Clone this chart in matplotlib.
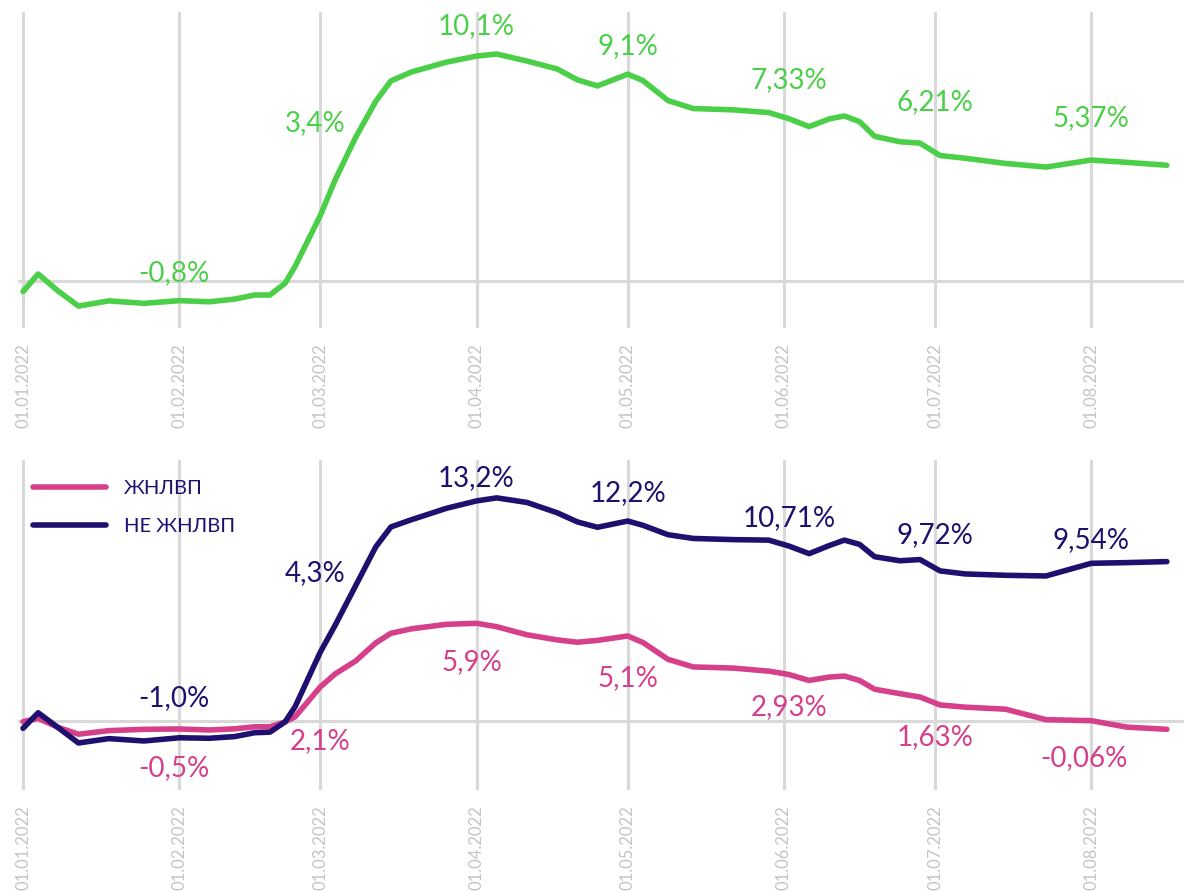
import matplotlib.pyplot as plt
import matplotlib.dates as mdates
import pandas as pd

plt.rcParams['font.family'] = ['Lato', 'Open Sans', 'DejaVu Sans']

# ---------------- data ----------------
days = [0, 3, 7, 11, 17, 24, 31, 37, 42, 46, 49, 52, 54, 59, 62, 66, 70, 73, 77, 84,
        90, 94, 100, 106, 110, 114, 120, 123, 128, 133, 141, 148, 152, 156, 160, 163,
        166, 169, 174, 178, 182, 187, 195, 203, 212, 219, 227]
dates = pd.Timestamp('2022-01-01') + pd.to_timedelta(days, unit='D')

total = [-0.47, 0.31, -0.45, -1.11, -0.88, -0.99, -0.87, -0.92, -0.80, -0.62, -0.62,
         -0.10, 0.65, 2.90, 4.50, 6.35, 7.95, 8.85, 9.24, 9.68, 9.95, 10.04, 9.73, 9.38,
         8.90, 8.63, 9.15, 8.87, 7.98, 7.63, 7.57, 7.45, 7.18, 6.83, 7.17, 7.30, 7.05,
         6.40, 6.16, 6.10, 5.55, 5.43, 5.20, 5.04, 5.35, 5.25, 5.12]

ne_zhnlvp = [-0.43, 0.49, -0.40, -1.30, -1.04, -1.18, -0.99, -1.02, -0.92, -0.69, -0.66,
             -0.05, 0.85, 4.08, 5.70, 8.00, 10.30, 11.48, 11.90, 12.58, 13.02, 13.20, 12.93,
             12.32, 11.78, 11.46, 11.83, 11.58, 11.02, 10.80, 10.73, 10.70, 10.35, 9.90,
             10.38, 10.70, 10.45, 9.72, 9.48, 9.55, 8.88, 8.70, 8.62, 8.58, 9.33, 9.37, 9.43]

zhnlvp = [-0.04, 0.16, -0.38, -0.78, -0.57, -0.49, -0.47, -0.53, -0.46, -0.34, -0.34,
          -0.05, 0.25, 2.02, 2.80, 3.55, 4.62, 5.19, 5.45, 5.72, 5.78, 5.58, 5.10, 4.80,
          4.66, 4.77, 5.03, 4.65, 3.65, 3.20, 3.13, 2.95, 2.75, 2.40, 2.60, 2.66, 2.40,
          1.88, 1.62, 1.42, 0.95, 0.82, 0.70, 0.08, 0.02, -0.36, -0.49]

month_days = [30, 58, 90, 120, 152, 181, 212]
total_labels = ['-0,8%', '3,4%', '10,1%', '9,1%', '7,33%', '6,21%', '5,37%']
ne_labels = ['-1,0%', '4,3%', '13,2%', '12,2%', '10,71%', '9,72%', '9,54%']
zh_labels = ['-0,5%', '2,1%', '5,9%', '5,1%', '2,93%', '1,63%', '-0,06%']

# label heights (layout only)
total_lab_y = [0.35, 6.99, 11.28, 10.40, 8.89, 7.92, 7.21]
ne_lab_y = [1.36, 8.76, 14.38, 13.49, 12.01, 11.01, 10.71]
zh_lab_y = [-2.78, -1.18, 3.49, 2.54, 0.83, -0.95, -2.19]
zh_lab_dx = [0, 1, -1, 0, 0, 0, -1.5]

GREEN = '#4ccf48'
PINK = '#d63f8a'
NAVY = '#1f0f6e'
GRID = '#d9d9d9'
TICK = '#c4c4c4'

fig = plt.figure(figsize=(11.84, 8.91), dpi=100)
W, H = 1184, 891
ax1 = fig.add_axes([18 / W, 1 - 328 / H, 1 - 18 / W, (328 - 12) / H])
ax2 = fig.add_axes([18 / W, 1 - 790 / H, 1 - 18 / W, (790 - 460) / H])

base = pd.Timestamp('2022-01-01')
label_dates = base + pd.to_timedelta(month_days, unit='D')

for ax, ylim in ((ax1, (-2.08, 11.9)), (ax2, (-4.08, 15.44))):
    ax.set_xlim(base - pd.Timedelta(days=1), base + pd.Timedelta(days=230.4))
    ax.set_ylim(*ylim)
    for s in ax.spines.values():
        s.set_visible(False)
    ax.set_yticks([])
    ax.xaxis.set_major_locator(mdates.MonthLocator())
    ax.xaxis.set_major_formatter(mdates.DateFormatter('%d.%m.%Y'))
    ax.tick_params(axis='x', length=0, pad=11, labelsize=12, labelcolor=TICK,
                   labelrotation=90)
    ax.grid(axis='x', color=GRID, linewidth=2.2)
    ax.axhline(0, color=GRID, linewidth=2.2, zorder=1)
    ax.set_axisbelow(True)

ax1.plot(dates, total, color=GREEN, linewidth=4, solid_capstyle='round',
         solid_joinstyle='round', zorder=3)
for d, y, t in zip(label_dates, total_lab_y, total_labels):
    ax1.text(d, y, t, color=GREEN, fontsize=20, ha='center', va='center')

ax2.plot(dates, zhnlvp, color=PINK, linewidth=4, solid_capstyle='round',
         solid_joinstyle='round', zorder=3, label='ЖНЛВП')
ax2.plot(dates, ne_zhnlvp, color=NAVY, linewidth=4, solid_capstyle='round',
         solid_joinstyle='round', zorder=4, label='НЕ ЖНЛВП')
for d, y, t in zip(label_dates, ne_lab_y, ne_labels):
    ax2.text(d, y, t, color=NAVY, fontsize=20, ha='center', va='center')
for d, y, t, dx in zip(label_dates, zh_lab_y, zh_labels, zh_lab_dx):
    ax2.text(d + pd.Timedelta(days=dx), y, t, color=PINK, fontsize=20,
             ha='center', va='center')

ax2.legend(loc='upper left', bbox_to_anchor=(0.0129, 0.94), frameon=False,
           fontsize=14.5, handlelength=3.6, handletextpad=0.9, labelspacing=1.05,
           borderpad=0, borderaxespad=0, labelcolor=NAVY)

plt.savefig('out.png', dpi=100)
